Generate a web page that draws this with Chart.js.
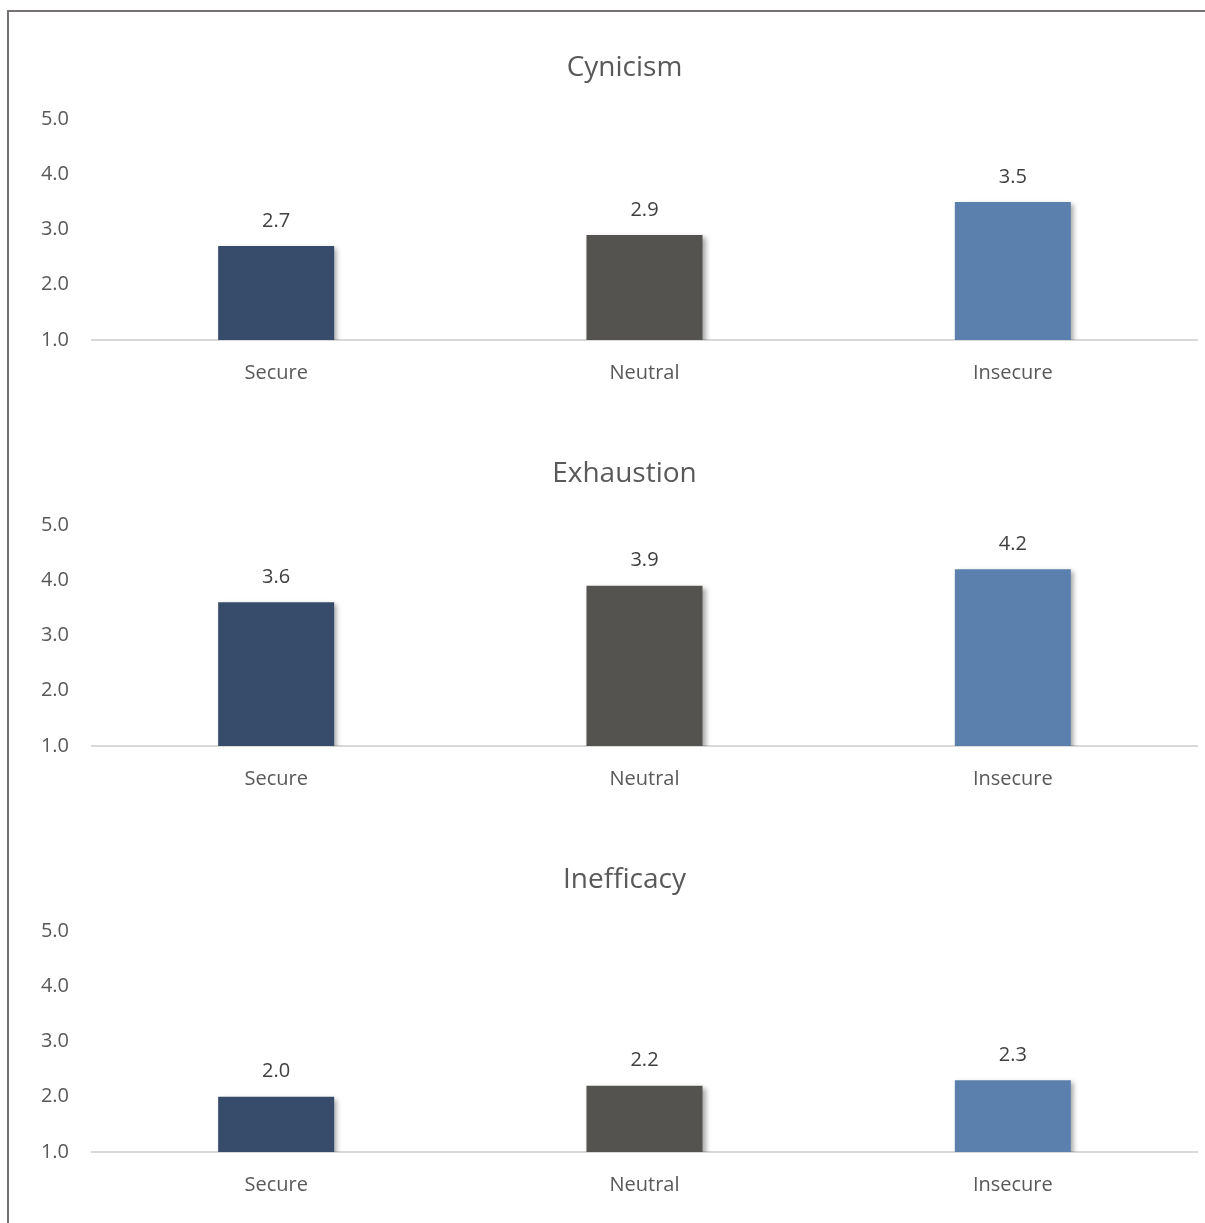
<!DOCTYPE html>
<html>
<head>
<meta charset="utf-8">
<script src="https://cdn.jsdelivr.net/npm/chart.js@4/dist/chart.umd.min.js"></script>
<style>
  body { margin: 0; background: #fff; }
  #frame {
    position: absolute; left: 7px; top: 10px; width: 1300px; height: 1300px;
    border-left: 2px solid #767171; border-top: 2px solid #767171;
  }
  .panel { position: absolute; left: 10px; width: 1195px; height: 406px; }
  #p1 { top: 20px; }
  #p2 { top: 426px; }
  #p3 { top: 832px; }
</style>
</head>
<body>
<div id="frame"></div>
<div class="panel" id="p1"><canvas id="cynicismChart"></canvas></div>
<div class="panel" id="p2"><canvas id="exhaustionChart"></canvas></div>
<div class="panel" id="p3"><canvas id="inefficacyChart"></canvas></div>
<script>
const groups = ['Secure', 'Neutral', 'Insecure'];
const cynicism = [2.7, 2.9, 3.5];
const exhaustion = [3.6, 3.9, 4.2];
const inefficacy = [2.0, 2.2, 2.3];
const yTicks = [1, 2, 3, 4, 5];
const barColors = ['#374C6A', '#54534F', '#5B80AD'];

const FONT = "'Open Sans', sans-serif";

// panel heading, centred over the whole panel (axis labels included)
const panelTitle = {
    id: 'panelTitle',
    afterDraw(chart, args, opts) {
        const c = chart.ctx;
        c.save();
        c.font = '28px ' + FONT;
        c.fillStyle = '#595959';
        c.textAlign = 'center';
        c.textBaseline = 'middle';
        const mid = (chart.chartArea.left + chart.chartArea.right) / 2 - opts.shift;
        c.fillText(opts.text, mid, opts.y);
        c.restore();
    }
};

// soft drop shadow under bars + value labels on top
const barExtras = {
    id: 'barExtras',
    beforeDatasetsDraw(chart) {
        const c = chart.ctx;
        c.save();
        c.shadowColor = 'rgba(0,0,0,0.35)';
        c.shadowBlur = 5;
        c.shadowOffsetX = 3;
        c.shadowOffsetY = 2;
    },
    afterDatasetsDraw(chart) {
        const c = chart.ctx;
        c.restore();
        c.save();
        c.font = '20px ' + FONT;
        c.fillStyle = '#404040';
        c.textAlign = 'center';
        c.textBaseline = 'middle';
        const meta = chart.getDatasetMeta(0);
        meta.data.forEach((bar, i) => {
            const v = chart.data.datasets[0].data[i];
            c.fillText(v.toFixed(1), bar.x, bar.y - 25);
        });
        c.restore();
    }
};

function makeChart(id, title, values) {
    return new Chart(document.getElementById(id).getContext('2d'), {
        type: 'bar',
        data: {
            labels: groups,
            datasets: [{
                data: values,
                backgroundColor: barColors,
                borderWidth: 0,
                categoryPercentage: 1,
                barPercentage: 0.315
            }]
        },
        options: {
            responsive: true,
            maintainAspectRatio: false,
            animation: false,
            layout: { padding: { top: 99, right: 8, bottom: 0, left: 0 } },
            plugins: {
                legend: { display: false },
                tooltip: { enabled: false },
                title: { display: false },
                panelTitle: { text: title, y: 48, shift: 20 }
            },
            scales: {
                x: {
                    grid: { display: false, drawTicks: false },
                    border: { color: '#D9D9D9', width: 2 },
                    ticks: { color: '#595959', font: { family: FONT, size: 20 }, padding: 21 },
                    afterFit(scale) { scale.height = 86; }
                },
                y: {
                    min: 1,
                    max: 5,
                    grid: { display: false, drawTicks: false },
                    border: { display: false },
                    afterBuildTicks(scale) { scale.ticks = yTicks.map(v => ({ value: v })); },
                    ticks: {
                        color: '#595959',
                        font: { family: FONT, size: 20 },
                        padding: 23,
                        callback: v => v.toFixed(1)
                    },
                    afterFit(scale) { scale.width = 82; }
                }
            }
        },
        plugins: [barExtras, panelTitle]
    });
}

makeChart('cynicismChart', 'Cynicism', cynicism);
makeChart('exhaustionChart', 'Exhaustion', exhaustion);
makeChart('inefficacyChart', 'Inefficacy', inefficacy);
</script>
</body>
</html>
